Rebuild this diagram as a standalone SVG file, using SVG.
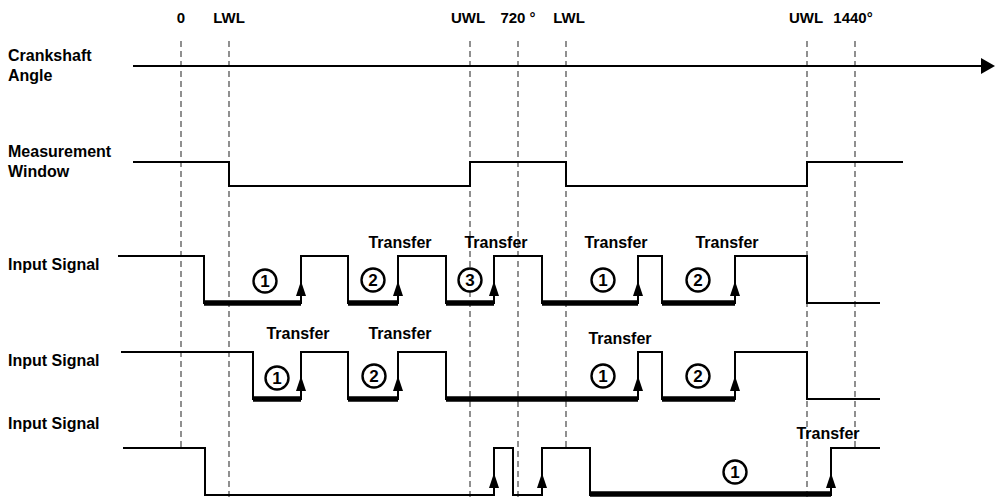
<svg xmlns="http://www.w3.org/2000/svg" width="995" height="497" viewBox="0 0 995 497">
<style>
.lbl{font-family:"Liberation Sans",Arial,sans-serif;font-weight:bold;font-size:16px;fill:#000}
.top{font-family:"Liberation Sans",Arial,sans-serif;font-weight:bold;font-size:15px;fill:#000;text-anchor:middle}
.tr{font-family:"Liberation Sans",Arial,sans-serif;font-weight:bold;font-size:16px;fill:#000;text-anchor:middle}
.num{font-family:"Liberation Sans",Arial,sans-serif;font-weight:bold;font-size:17px;fill:#000;text-anchor:middle}
.dash{stroke:#555;stroke-width:1.3;stroke-dasharray:6 4;fill:none}
.sig{stroke:#000;stroke-width:2;fill:none}
.thick{stroke:#000;stroke-width:5.5;fill:none}
.circ{stroke:#000;stroke-width:2.4;fill:#fff}
</style>
<defs>
<marker id="axisHead" viewBox="0 0 14 16" refX="0" refY="8" markerWidth="14" markerHeight="16" markerUnits="userSpaceOnUse" orient="auto"><path d="M0,0 L14,8 L0,16 Z" fill="#000"/></marker>
<path id="ah" d="M0,0 L-5,15 L5,15 Z" fill="#000"/>
</defs>
<rect width="995" height="497" fill="#fff"/>

<g id="angle-markers">
<line class="dash" x1="181" y1="41" x2="181" y2="448"/>
<line class="dash" x1="229" y1="41" x2="229" y2="497"/>
<line class="dash" x1="470" y1="41" x2="470" y2="497"/>
<line class="dash" x1="518" y1="41" x2="518" y2="497"/>
<line class="dash" x1="566" y1="41" x2="566" y2="448"/>
<line class="dash" x1="807" y1="41" x2="807" y2="497"/>
<line class="dash" x1="855" y1="41" x2="855" y2="448"/>
<text class="top" x="181" y="23">0</text>
<text class="top" x="229" y="23">LWL</text>
<text class="top" x="468" y="23">UWL</text>
<text class="top" x="518" y="23">720 °</text>
<text class="top" x="569" y="23">LWL</text>
<text class="top" x="806" y="23">UWL</text>
<text class="top" x="853" y="23">1440°</text>
</g>

<g id="labels">
<text class="lbl" x="8" y="61">Crankshaft</text>
<text class="lbl" x="8" y="81">Angle</text>
<text class="lbl" x="8" y="157">Measurement</text>
<text class="lbl" x="8" y="177">Window</text>
<text class="lbl" x="8" y="270">Input Signal</text>
<text class="lbl" x="8" y="366">Input Signal</text>
<text class="lbl" x="8" y="429">Input Signal</text>
</g>

<g id="connectors">
<line class="sig" x1="133" y1="66" x2="981" y2="66" marker-end="url(#axisHead)"/>
<path class="sig" d="M133,162 H229 V186 H470 V162 H566 V186 H807 V162 H903"/>
</g>

<g id="signal-1">
<path class="sig" d="M118,256 H204 V303 H301 V256 H348 V303 H398 V256 H446 V303 H494 V256 H542 V303 H638 V256 H662 V303 H735 V256 H807 V303 H880"/>
<path class="thick" d="M204,303 H301 M348,303 H398 M446,303 H494 M542,303 H638 M662,303 H735"/>
<use href="#ah" x="301" y="281"/>
<use href="#ah" x="398" y="281"/>
<use href="#ah" x="494" y="281"/>
<use href="#ah" x="638" y="281"/>
<use href="#ah" x="735" y="281"/>
<circle class="circ" cx="265" cy="281" r="11.5"/><text class="num" x="265" y="287">1</text>
<circle class="circ" cx="373" cy="280" r="11.5"/><text class="num" x="373" y="286">2</text>
<circle class="circ" cx="470" cy="280" r="11.5"/><text class="num" x="470" y="286">3</text>
<circle class="circ" cx="603" cy="280" r="11.5"/><text class="num" x="603" y="286">1</text>
<circle class="circ" cx="698" cy="280" r="11.5"/><text class="num" x="698" y="286">2</text>
<text class="tr" x="400" y="248">Transfer</text>
<text class="tr" x="496" y="248">Transfer</text>
<text class="tr" x="616" y="248">Transfer</text>
<text class="tr" x="727" y="248">Transfer</text>
</g>

<g id="signal-2">
<path class="sig" d="M121,352 H253 V399 H301 V352 H348 V399 H398 V352 H446 V399 H638 V352 H662 V399 H735 V352 H807 V399 H880"/>
<path class="thick" d="M253,399 H301 M348,399 H398 M446,399 H638 M662,399 H735"/>
<use href="#ah" x="301" y="376"/>
<use href="#ah" x="398" y="376"/>
<use href="#ah" x="638" y="376"/>
<use href="#ah" x="735" y="376"/>
<circle class="circ" cx="277" cy="378" r="11.5"/><text class="num" x="277" y="384">1</text>
<circle class="circ" cx="374" cy="376" r="11.5"/><text class="num" x="374" y="382">2</text>
<circle class="circ" cx="603" cy="376" r="11.5"/><text class="num" x="603" y="382">1</text>
<circle class="circ" cx="698" cy="376" r="11.5"/><text class="num" x="698" y="382">2</text>
<text class="tr" x="298" y="339">Transfer</text>
<text class="tr" x="400" y="339">Transfer</text>
<text class="tr" x="620" y="344">Transfer</text>
</g>

<g id="signal-3">
<path class="sig" d="M123,448 H205 V495 H494 V448 H513 V495 H542 V448 H590 V495 H831 V448 H880"/>
<path class="thick" d="M590,494 H831"/>
<use href="#ah" x="494" y="473"/>
<use href="#ah" x="542" y="473"/>
<use href="#ah" x="831" y="473"/>
<circle class="circ" cx="735" cy="472" r="11.5"/><text class="num" x="735" y="478">1</text>
<text class="tr" x="828" y="439">Transfer</text>
</g>
</svg>
